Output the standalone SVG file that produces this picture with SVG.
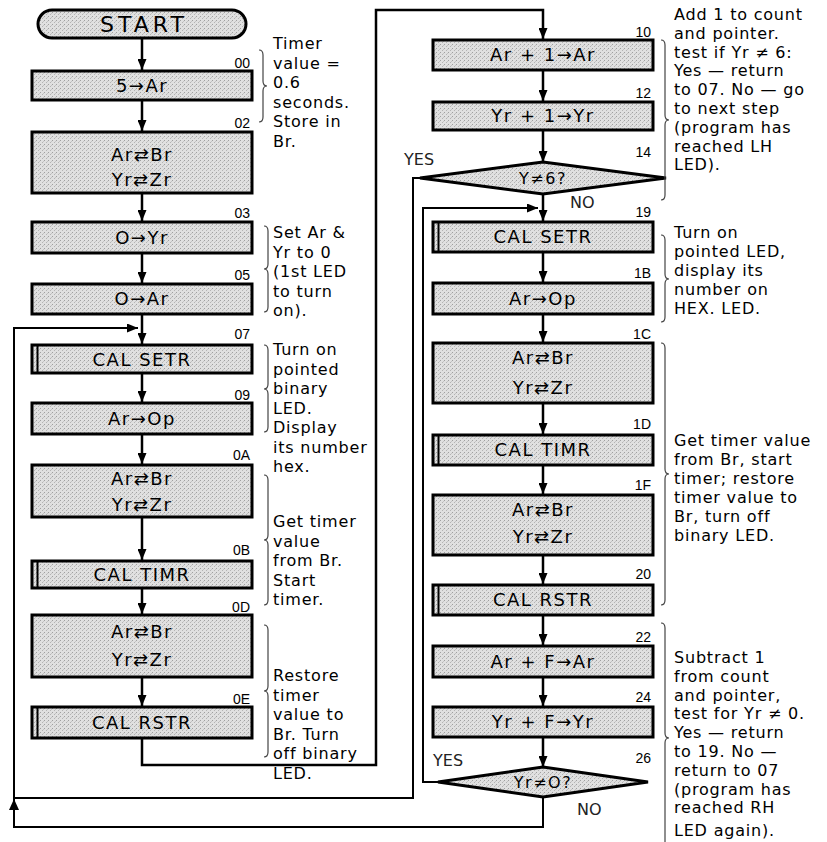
<svg xmlns="http://www.w3.org/2000/svg" width="827" height="842" viewBox="0 0 827 842">
<style>
.box{fill:url(#stip);stroke:#000;stroke-width:3}
.bar{stroke:#000;stroke-width:2}
.bt{font-family:"DejaVu Sans","Liberation Sans",sans-serif;font-size:18px;text-anchor:middle;letter-spacing:1.5px;fill:#000}
.lbl{font-family:"Liberation Sans Narrow","Liberation Sans",sans-serif;font-size:14px;text-anchor:end;fill:#000}
.ann{font-family:"DejaVu Sans","Liberation Sans",sans-serif;font-size:16px;letter-spacing:0.8px;fill:#000}
.yn{font-family:"DejaVu Sans","Liberation Sans",sans-serif;font-size:16px;fill:#222}
.brace{fill:none;stroke:#444;stroke-width:1.2}
.conn{fill:none;stroke:#000;stroke-width:2.5}
.loop{fill:none;stroke:#000;stroke-width:2}
</style>
<defs>
<pattern id="stip" width="4" height="4" patternUnits="userSpaceOnUse">
<rect width="4" height="4" fill="#e0e0e0"/>
<rect x="0" y="0" width="1" height="1" fill="#a0a0a0"/>
<rect x="2" y="2" width="1" height="1" fill="#b4b4b4"/>
<rect x="3" y="1" width="1" height="1" fill="#c4c4c4"/>
</pattern>
<marker id="ah" viewBox="0 0 11 9" refX="11" refY="4.5" markerWidth="11" markerHeight="9" markerUnits="userSpaceOnUse" orient="auto">
<path d="M0,0 L11,4.5 L0,9 z" fill="#000"/>
</marker>
</defs>
<rect width="827" height="842" fill="#fff"/>

<!-- connectors -->
<g id="connectors">
<path class="conn" marker-end="url(#ah)" d="M142,38 V70"/>
<path class="conn" marker-end="url(#ah)" d="M142,100 V131"/>
<path class="conn" marker-end="url(#ah)" d="M142,193 V221"/>
<path class="conn" marker-end="url(#ah)" d="M142,253 V283"/>
<path class="conn" marker-end="url(#ah)" d="M142,314 V344"/>
<path class="conn" marker-end="url(#ah)" d="M142,373 V402"/>
<path class="conn" marker-end="url(#ah)" d="M142,434 V464"/>
<path class="conn" marker-end="url(#ah)" d="M142,517 V560"/>
<path class="conn" marker-end="url(#ah)" d="M142,588 V614"/>
<path class="conn" marker-end="url(#ah)" d="M142,677 V706"/>
<path class="conn" marker-end="url(#ah)" d="M142,738 V765 H376 V10 H543 V39"/>
<path class="conn" marker-end="url(#ah)" d="M543,70 V101"/>
<path class="conn" marker-end="url(#ah)" d="M543,130 V162"/>
<path class="conn" marker-end="url(#ah)" d="M543,194 V221"/>
<path class="conn" marker-end="url(#ah)" d="M543,252 V282"/>
<path class="conn" marker-end="url(#ah)" d="M543,314 V342"/>
<path class="conn" marker-end="url(#ah)" d="M543,403 V434"/>
<path class="conn" marker-end="url(#ah)" d="M543,465 V494"/>
<path class="conn" marker-end="url(#ah)" d="M543,555 V584"/>
<path class="conn" marker-end="url(#ah)" d="M543,615 V645"/>
<path class="conn" marker-end="url(#ah)" d="M543,677 V706"/>
<path class="conn" marker-end="url(#ah)" d="M543,737 V767"/>
<path class="loop" d="M420,178 H413 V798 H14"/>
<path class="loop" marker-end="url(#ah)" d="M438,782 H423 V208 H538"/>
<path class="loop" marker-end="url(#ah)" d="M543,797 V827 H14 V328 H138"/>
<path d="M14,799 L9,810 L19,810 z" fill="#000"/>
</g>

<!-- left column -->
<g id="start">
<rect class="box" x="38" y="10" width="208" height="28" rx="14"/>
<text class="bt" x="144" y="32" style="font-size:22px;letter-spacing:4px">START</text>
</g>
<g id="n00">
<rect class="box" x="32" y="71" width="220" height="29"/>
<text class="bt" x="142" y="92">5→Ar</text>
<text class="lbl" x="250" y="68">00</text>
</g>
<g id="n02">
<rect class="box" x="32" y="132" width="220" height="61"/>
<text class="bt" x="142" y="161">Ar⇄Br</text>
<text class="bt" x="142" y="186">Yr⇄Zr</text>
<text class="lbl" x="250" y="128">02</text>
</g>
<g id="n03">
<rect class="box" x="32" y="222" width="220" height="31"/>
<text class="bt" x="142" y="244">O→Yr</text>
<text class="lbl" x="250" y="218">03</text>
</g>
<g id="n05">
<rect class="box" x="32" y="284" width="220" height="30"/>
<text class="bt" x="142" y="305">O→Ar</text>
<text class="lbl" x="250" y="280">05</text>
</g>
<g id="n07">
<rect class="box" x="32" y="345" width="220" height="28"/>
<line class="bar" x1="37.5" y1="346" x2="37.5" y2="372"/>
<text class="bt" x="142" y="366">CAL SETR</text>
<text class="lbl" x="250" y="339">07</text>
</g>
<g id="n09">
<rect class="box" x="32" y="403" width="220" height="31"/>
<text class="bt" x="142" y="425">Ar→Op</text>
<text class="lbl" x="250" y="400">09</text>
</g>
<g id="n0A">
<rect class="box" x="32" y="465" width="220" height="52"/>
<text class="bt" x="142" y="485">Ar⇄Br</text>
<text class="bt" x="142" y="511">Yr⇄Zr</text>
<text class="lbl" x="250" y="460">0A</text>
</g>
<g id="n0B">
<rect class="box" x="32" y="561" width="220" height="27"/>
<line class="bar" x1="37.5" y1="562" x2="37.5" y2="587"/>
<text class="bt" x="142" y="581">CAL TIMR</text>
<text class="lbl" x="250" y="555">0B</text>
</g>
<g id="n0D">
<rect class="box" x="32" y="615" width="220" height="62"/>
<text class="bt" x="142" y="638">Ar⇄Br</text>
<text class="bt" x="142" y="666">Yr⇄Zr</text>
<text class="lbl" x="250" y="612">0D</text>
</g>
<g id="n0E">
<rect class="box" x="32" y="707" width="220" height="31"/>
<line class="bar" x1="37.5" y1="708" x2="37.5" y2="737"/>
<text class="bt" x="142" y="729">CAL RSTR</text>
<text class="lbl" x="250" y="704">0E</text>
</g>

<!-- right column -->
<g id="n10">
<rect class="box" x="433" y="40" width="220" height="30"/>
<text class="bt" x="543" y="61">Ar + 1→Ar</text>
<text class="lbl" x="651" y="37">10</text>
</g>
<g id="n12">
<rect class="box" x="433" y="102" width="220" height="28"/>
<text class="bt" x="543" y="122">Yr + 1→Yr</text>
<text class="lbl" x="651" y="98">12</text>
</g>
<g id="n14">
<polygon class="box" points="420,178 543,162 666,178 543,194"/>
<text class="bt" x="543" y="184" style="font-size:16px">Y≠6?</text>
<text class="lbl" x="651" y="157">14</text>
<text class="yn" x="404" y="165">YES</text>
<text class="yn" x="570" y="208">NO</text>
</g>
<g id="n19">
<rect class="box" x="433" y="222" width="220" height="30"/>
<line class="bar" x1="438.5" y1="223" x2="438.5" y2="251"/>
<text class="bt" x="543" y="243">CAL SETR</text>
<text class="lbl" x="651" y="217">19</text>
</g>
<g id="n1B">
<rect class="box" x="433" y="283" width="220" height="31"/>
<text class="bt" x="543" y="305">Ar→Op</text>
<text class="lbl" x="651" y="278">1B</text>
</g>
<g id="n1C">
<rect class="box" x="433" y="343" width="220" height="60"/>
<text class="bt" x="543" y="364">Ar⇄Br</text>
<text class="bt" x="543" y="394">Yr⇄Zr</text>
<text class="lbl" x="651" y="339">1C</text>
</g>
<g id="n1D">
<rect class="box" x="433" y="435" width="220" height="30"/>
<line class="bar" x1="438.5" y1="436" x2="438.5" y2="464"/>
<text class="bt" x="543" y="456">CAL TIMR</text>
<text class="lbl" x="651" y="429">1D</text>
</g>
<g id="n1F">
<rect class="box" x="433" y="495" width="220" height="60"/>
<text class="bt" x="543" y="516">Ar⇄Br</text>
<text class="bt" x="543" y="543">Yr⇄Zr</text>
<text class="lbl" x="651" y="490">1F</text>
</g>
<g id="n20">
<rect class="box" x="433" y="585" width="220" height="30"/>
<line class="bar" x1="438.5" y1="586" x2="438.5" y2="614"/>
<text class="bt" x="543" y="606">CAL RSTR</text>
<text class="lbl" x="651" y="579">20</text>
</g>
<g id="n22">
<rect class="box" x="433" y="646" width="220" height="31"/>
<text class="bt" x="543" y="668">Ar + F→Ar</text>
<text class="lbl" x="651" y="642">22</text>
</g>
<g id="n24">
<rect class="box" x="433" y="707" width="220" height="30"/>
<text class="bt" x="543" y="728">Yr + F→Yr</text>
<text class="lbl" x="651" y="702">24</text>
</g>
<g id="n26">
<polygon class="box" points="438,782 543,767 648,782 543,797"/>
<text class="bt" x="543" y="788" style="font-size:16px">Yr≠O?</text>
<text class="lbl" x="651" y="763">26</text>
<text class="yn" x="433" y="766">YES</text>
<text class="yn" x="577" y="815">NO</text>
</g>

<!-- annotations -->
<g id="notes">
<path class="brace" d="M259,50 Q263,50 263,55 V81 Q263,86 267,86 Q263,86 263,91 V117 Q263,122 259,122"/>
<text class="ann" x="273" y="49"><tspan x="273">Timer</tspan><tspan x="273" dy="19.5">value =</tspan><tspan x="273" dy="19.5">0.6</tspan><tspan x="273" dy="19.5">seconds.</tspan><tspan x="273" dy="19.5">Store in</tspan><tspan x="273" dy="19.5">Br.</tspan></text>

<path class="brace" d="M264,226 Q268,226 268,231 V264 Q268,269 264,269 Q268,269 268,274 V307 Q268,312 264,312"/>
<text class="ann" x="273" y="238"><tspan x="273">Set Ar &amp;</tspan><tspan x="273" dy="19.5">Yr to 0</tspan><tspan x="273" dy="19.5">(1st LED</tspan><tspan x="273" dy="19.5">to turn</tspan><tspan x="273" dy="19.5">on).</tspan></text>

<path class="brace" d="M264,345 Q268,345 268,350 V384 Q268,389 264,389 Q268,389 268,394 V427 Q268,432 264,432"/>
<text class="ann" x="273" y="355"><tspan x="273">Turn on</tspan><tspan x="273" dy="19.5">pointed</tspan><tspan x="273" dy="19.5">binary</tspan><tspan x="273" dy="19.5">LED.</tspan><tspan x="273" dy="19.5">Display</tspan><tspan x="273" dy="19.5">its number</tspan><tspan x="273" dy="19.5">hex.</tspan></text>

<path class="brace" d="M264,475 Q268,475 268,480 V535 Q268,540 264,540 Q268,540 268,545 V600 Q268,605 264,605"/>
<text class="ann" x="273" y="527"><tspan x="273">Get timer</tspan><tspan x="273" dy="19.5">value</tspan><tspan x="273" dy="19.5">from Br.</tspan><tspan x="273" dy="19.5">Start</tspan><tspan x="273" dy="19.5">timer.</tspan></text>

<path class="brace" d="M264,625 Q268,625 268,630 V686 Q268,691 264,691 Q268,691 268,696 V752 Q268,757 264,757"/>
<text class="ann" x="273" y="681"><tspan x="273">Restore</tspan><tspan x="273" dy="19.5">timer</tspan><tspan x="273" dy="19.5">value to</tspan><tspan x="273" dy="19.5">Br. Turn</tspan><tspan x="273" dy="19.5">off binary</tspan><tspan x="273" dy="20">LED.</tspan></text>

<path class="brace" d="M661,40 Q665,40 665,45 V115 Q665,120 669,120 Q665,120 665,125 V195 Q665,200 661,200"/>
<text class="ann" x="674" y="20"><tspan x="674">Add 1 to count</tspan><tspan x="674" dy="18.8">and pointer.</tspan><tspan x="674" dy="18.8">test if Yr ≠ 6:</tspan><tspan x="674" dy="18.8">Yes — return</tspan><tspan x="674" dy="18.8">to 07. No — go</tspan><tspan x="674" dy="18.8">to next step</tspan><tspan x="674" dy="18.8">(program has</tspan><tspan x="674" dy="18.8">reached LH</tspan><tspan x="674" dy="18.8">LED).</tspan></text>

<path class="brace" d="M661,235 Q665,235 665,240 V274 Q665,279 669,279 Q665,279 665,284 V317 Q665,322 661,322"/>
<text class="ann" x="674" y="238"><tspan x="674">Turn on</tspan><tspan x="674" dy="19">pointed LED,</tspan><tspan x="674" dy="19">display its</tspan><tspan x="674" dy="19">number on</tspan><tspan x="674" dy="19">HEX. LED.</tspan></text>

<path class="brace" d="M661,343 Q665,343 665,348 V469 Q665,474 669,474 Q665,474 665,479 V600 Q665,605 661,605"/>
<text class="ann" x="674" y="446"><tspan x="674">Get timer value</tspan><tspan x="674" dy="19">from Br, start</tspan><tspan x="674" dy="19">timer; restore</tspan><tspan x="674" dy="19">timer value to</tspan><tspan x="674" dy="19">Br, turn off</tspan><tspan x="674" dy="19">binary LED.</tspan></text>

<path class="brace" d="M661,623 Q665,623 665,628 V733 Q665,738 669,738 Q665,738 665,743 V850"/>
<text class="ann" x="674" y="663"><tspan x="674">Subtract 1</tspan><tspan x="674" dy="18.8">from count</tspan><tspan x="674" dy="18.8">and pointer,</tspan><tspan x="674" dy="18.8">test for Yr ≠ 0.</tspan><tspan x="674" dy="18.8">Yes — return</tspan><tspan x="674" dy="18.8">to 19. No —</tspan><tspan x="674" dy="18.8">return to 07</tspan><tspan x="674" dy="18.8">(program has</tspan><tspan x="674" dy="18.8">reached RH</tspan><tspan x="674" y="836">LED again).</tspan></text>
</g>
</svg>
